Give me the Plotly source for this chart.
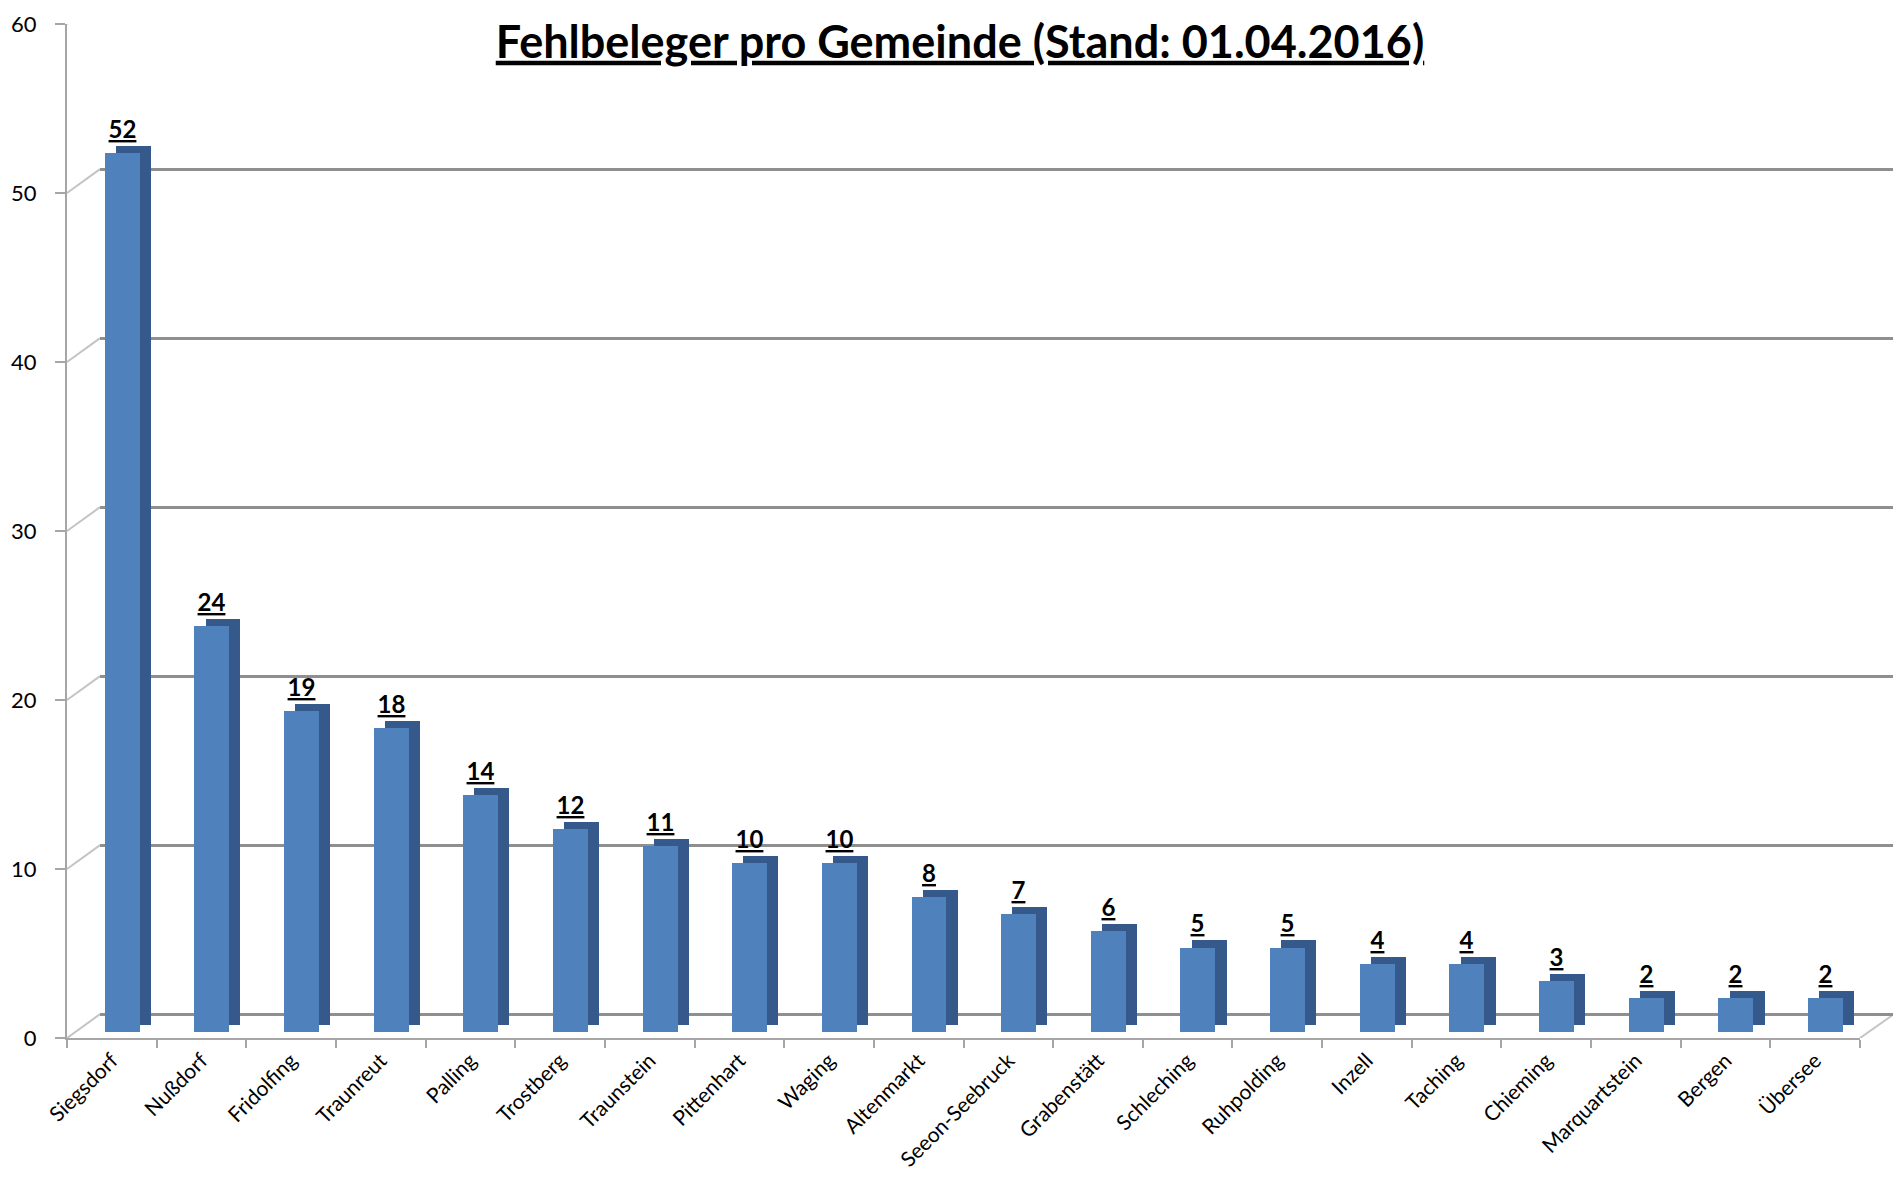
import plotly.graph_objects as go

gemeinden = ["Siegsdorf", "Nußdorf", "Fridolfing", "Traunreut", "Palling", "Trostberg",
             "Traunstein", "Pittenhart", "Waging", "Altenmarkt", "Seeon-Seebruck",
             "Grabenstätt", "Schleching", "Ruhpolding", "Inzell", "Taching", "Chieming",
             "Marquartstein", "Bergen", "Übersee"]
fehlbeleger = [52, 24, 19, 18, 14, 12, 11, 10, 10, 8, 7, 6, 5, 5, 4, 4, 3, 2, 2, 2]
y_ticks = [0, 10, 20, 30, 40, 50, 60]

FRONT = "#4F81BD"
SIDE = "#34598A"
FONT = "Lato, 'Open Sans', sans-serif"
WALL = "#c4c4c4"

lift = 0.35      # bars stand slightly back from the front edge (3D look)
depth = 0.42     # visual depth of the bar top
wall_shift = 1.41  # vertical offset of back wall in axis units

fig = go.Figure()

# empty trace so that the back-wall subplot (x/y) is created
fig.add_trace(go.Scatter(x=[], y=[], xaxis="x", yaxis="y",
                         showlegend=False, hoverinfo="skip"))

# back/side face (darker), drawn first
fig.add_trace(go.Bar(
    x=gemeinden, y=fehlbeleger, base=lift + depth,
    offset=0.045, width=0.39,
    marker=dict(color=SIDE, line=dict(width=0)),
    xaxis="x2", yaxis="y2", showlegend=False, hoverinfo="skip"))

# front face
fig.add_trace(go.Bar(
    x=gemeinden, y=fehlbeleger, base=lift,
    offset=-0.08, width=0.39,
    marker=dict(color=FRONT, line=dict(width=0)),
    xaxis="x2", yaxis="y2", showlegend=False,
    hovertemplate="%{x}: %{y}<extra></extra>"))

# value labels (transparent carrier bar)
fig.add_trace(go.Bar(
    x=gemeinden, y=fehlbeleger, base=lift + depth,
    offset=-0.08, width=0.39,
    marker=dict(color="rgba(0,0,0,0)", line=dict(width=0)),
    text=[f"<b><u>{v}</u></b>" for v in fehlbeleger],
    textposition="outside", cliponaxis=False,
    textfont=dict(family=FONT, size=24, color="black"),
    xaxis="x2", yaxis="y2", showlegend=False, hoverinfo="skip"))

# page body has an 8px margin -> work in figure coordinates shifted by 8
W, H = 1893, 1192
left_px, right_px = 59, 1886
plot_w = right_px - left_px
back_x0 = (92 - left_px) / plot_w
front_x1 = (1852 - left_px) / plot_w

# side-wall edges (front axis tick -> back wall) and right floor edge
shapes = []
for v in y_ticks:
    shapes.append(dict(type="line", xref="paper", yref="y2",
                       x0=0, x1=back_x0, y0=v, y1=v + wall_shift,
                       line=dict(color=WALL, width=2), layer="below"))
shapes.append(dict(type="line", xref="paper", yref="y2",
                   x0=front_x1, x1=1, y0=0, y1=wall_shift,
                   line=dict(color=WALL, width=2), layer="below"))

fig.update_layout(
    width=W, height=H,
    margin=dict(l=left_px, r=W - right_px, t=16, b=162, autoexpand=False),
    paper_bgcolor="white", plot_bgcolor="rgba(0,0,0,0)",
    barmode="overlay", bargap=0,
    font=dict(family=FONT, color="black"),
    shapes=shapes,
    title=dict(text="<b><u>Fehlbeleger pro Gemeinde (Stand: 01.04.2016)</u></b>",
               font=dict(family=FONT, size=45, color="black"),
               x=952 / W, xanchor="center", xref="container",
               y=1 - 34 / H, yanchor="middle", yref="container"),
    # back wall (gridlines only)
    xaxis=dict(domain=[back_x0, 1], anchor="y", automargin=False,
               visible=False, range=[0, 1], showgrid=False, zeroline=False),
    yaxis=dict(domain=[0, 1], anchor="x", range=[-wall_shift, 60 - wall_shift],
               tickvals=y_ticks, showticklabels=False, ticks="", automargin=False,
               showgrid=True, gridcolor="#8f8f8f", gridwidth=2.5,
               zeroline=False, showline=False),
    # front axes with bars
    xaxis2=dict(domain=[0, front_x1], anchor="y2", automargin=False,
                type="category", showgrid=False, zeroline=False,
                showline=True, linecolor="#a6a6a6", linewidth=2,
                ticks="outside", tickson="boundaries", ticklen=8,
                tickcolor="#a6a6a6", tickwidth=2,
                tickangle=-45, tickfont=dict(family=FONT, size=21, color="black")),
    yaxis2=dict(domain=[0, 1], anchor="x2", range=[0, 60], automargin=False,
                tickvals=y_ticks, showgrid=False, zeroline=False,
                showline=True, linecolor="#a6a6a6", linewidth=2,
                ticks="outside", ticklen=10, tickcolor="#a6a6a6", tickwidth=2,
                ticklabelstandoff=14, ticklabeloverflow="allow",
                tickfont=dict(family=FONT, size=22, color="black")),
)

fig.write_html("out.html")
